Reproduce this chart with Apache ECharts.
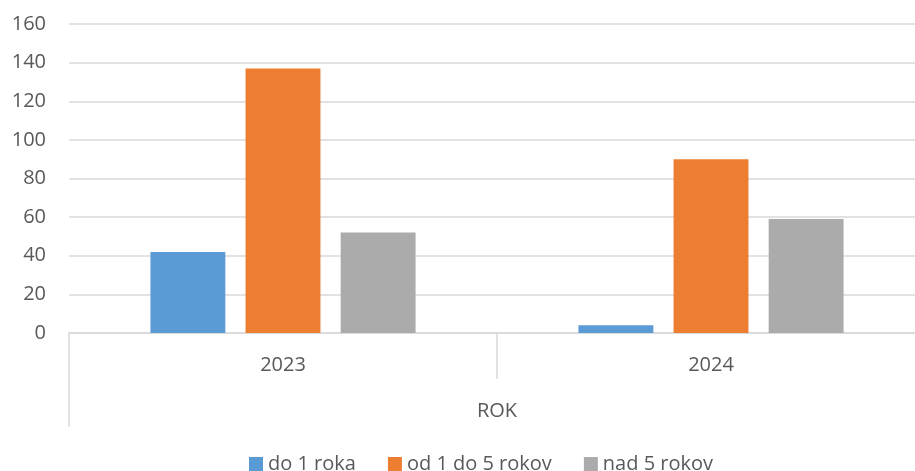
<!DOCTYPE html>
<html><head><meta charset="utf-8">
<script src="https://cdn.jsdelivr.net/npm/echarts@6/dist/echarts.min.js"></script>
<style>html,body{margin:0;padding:0;background:#fff;overflow:hidden;width:915px;height:471px}#c{width:925px;height:471px}</style>
</head><body><div id="c"></div>
<script>
var categories = ['2023', '2024'];
var seriesNames = ['do 1 roka', 'od 1 do 5 rokov', 'nad 5 rokov'];
var do1roka = [42, 4];
var od1do5 = [137, 90];
var nad5 = [52, 59];
var outerLabel = ['ROK'];
var colors = ['#5B9BD5', '#ED7D31', '#ABABAB'];
var font = 'Open Sans';
var chart = echarts.init(document.getElementById('c'));
chart.setOption({
  animation: false,
  color: colors,
  textStyle: {fontFamily: font},
  grid: {left: 69, right: 0, top: 24, height: 309, containLabel: false},
  legend: {
    top: 449, left: 244, itemWidth: 14, itemHeight: 14, itemGap: 32,
    icon: 'rect',
    textStyle: {fontFamily: font, fontSize: 20, color: '#595959'},
    data: seriesNames
  },
  xAxis: [{
    type: 'category', data: categories,
    axisLine: {lineStyle: {color: '#D9D9D9', width: 1.5}},
    axisTick: {show: true, length: 46, lineStyle: {color: '#D9D9D9', width: 1.5}},
    axisLabel: {fontFamily: font, fontSize: 20, color: '#595959', margin: 22}
  }, {
    type: 'category', data: outerLabel, position: 'bottom',
    axisLine: {show: false},
    axisTick: {show: true, length: 94, lineStyle: {color: '#D9D9D9', width: 1.5}},
    axisLabel: {fontFamily: font, fontSize: 20, color: '#595959', margin: 68}
  }],
  yAxis: {
    type: 'value', min: 0, max: 160, interval: 20,
    axisLine: {show: false}, axisTick: {show: false},
    splitLine: {lineStyle: {color: '#D9D9D9', width: 1.5}},
    axisLabel: {fontFamily: font, fontSize: 20, color: '#595959', margin: 23}
  },
  series: [
    {name: seriesNames[0], type: 'bar', data: do1roka, barWidth: '17.5%', barGap: '27%'},
    {name: seriesNames[1], type: 'bar', data: od1do5, barWidth: '17.5%', barGap: '27%'},
    {name: seriesNames[2], type: 'bar', data: nad5, barWidth: '17.5%', barGap: '27%'}
  ]
});
</script></body></html>
